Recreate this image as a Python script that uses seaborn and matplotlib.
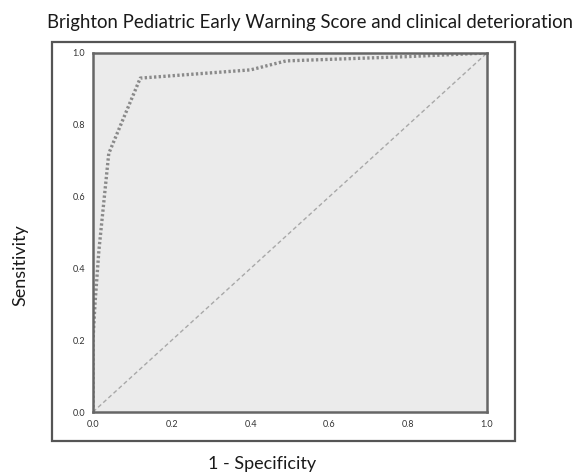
import matplotlib
matplotlib.use("Agg")
import matplotlib.pyplot as plt
import pandas as pd
import seaborn as sns
from matplotlib.patches import Rectangle

sns.set_theme(style="white")
plt.rcParams['font.family'] = ['Lato', 'DejaVu Sans']

# ROC curve
fpr = [0.0, 0.0, 0.005, 0.015, 0.04, 0.12, 0.40, 0.49, 0.80, 1.0]
tpr = [0.0, 0.20, 0.30, 0.45, 0.72, 0.93, 0.953, 0.978, 0.99, 1.0]
ref_x = [0.0, 1.0]
ref_y = [0.0, 1.0]
ticks = [0.0, 0.2, 0.4, 0.6, 0.8, 1.0]

roc_df = pd.DataFrame({'fpr': fpr, 'tpr': tpr})
ref_df = pd.DataFrame({'x': ref_x, 'y': ref_y})

fig = plt.figure(figsize=(5.83, 4.74), dpi=100)
ax = fig.add_axes([0.1595, 0.1308, 0.6758, 0.7574])
ax.set_facecolor('#ebebeb')

# outer frame around the plot
fig.patches.append(Rectangle((0.089, 0.070), 0.794, 0.842, transform=fig.transFigure,
                             fill=False, edgecolor='#555555', linewidth=1.6))

sns.lineplot(data=ref_df, x='x', y='y', ax=ax, color='#a8a8a8', linewidth=1.0,
             linestyle=(0, (3, 2)), sort=False)
sns.lineplot(data=roc_df, x='fpr', y='tpr', ax=ax, color='#8a8a8a', linewidth=2.4,
             linestyle=(0, (0.7, 0.7)), sort=False, estimator=None)

ax.set_xlim(0, 1)
ax.set_ylim(0, 1)
ax.set_xticks(ticks)
ax.set_yticks(ticks)
ax.set_xticklabels([f'{t:.1f}' for t in ticks])
ax.set_yticklabels([f'{t:.1f}' for t in ticks])
ax.tick_params(axis='both', labelsize=6.5, colors='#555555', length=2.5, width=1.2,
               direction='out', pad=3)
ax.tick_params(axis='both', labelcolor='#333333')
for side, sp in ax.spines.items():
    sp.set_color('#666666')
    sp.set_linewidth(1.8)
ax.set_xlabel('')
ax.set_ylabel('')

fig.text(0.531, 0.953, 'Brighton Pediatric Early Warning Score and clinical deterioration',
         ha='center', va='center', fontsize=13.4, color='#1a1a1a')
fig.text(0.45, 0.022, '1 - Specificity', ha='center', va='center', fontsize=13,
         color='#1a1a1a')
fig.text(0.035, 0.44, 'Sensitivity', ha='center', va='center', rotation=90,
         fontsize=13, color='#1a1a1a')

fig.savefig('out.png', dpi=100)
